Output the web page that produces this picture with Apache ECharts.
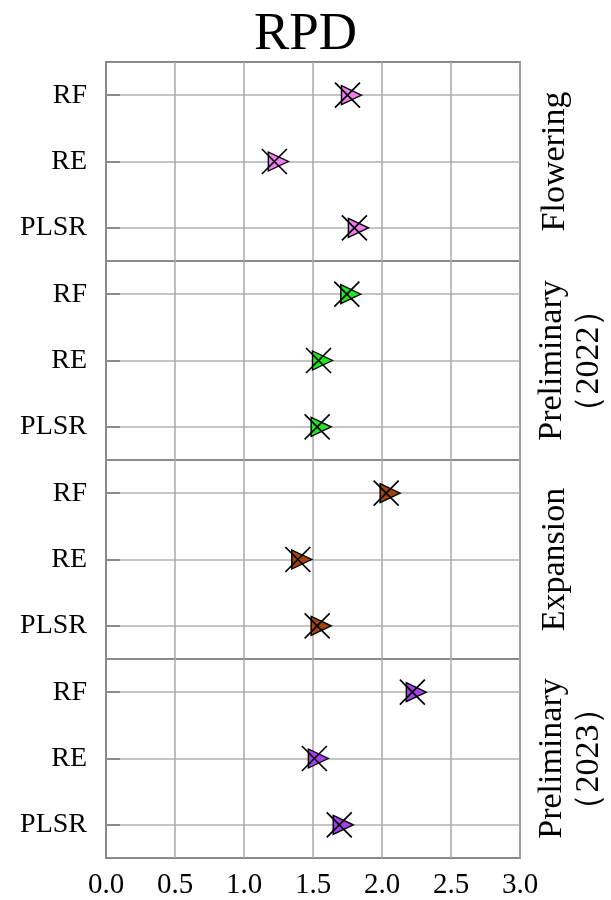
<!DOCTYPE html>
<html>
<head>
<meta charset="utf-8">
<script src="https://cdn.jsdelivr.net/npm/echarts@6/dist/echarts.min.js"></script>
<style>
html,body{margin:0;padding:0;background:#fff;}
#chart{width:611px;height:900px;}
</style>
</head>
<body>
<div id="chart"></div>
<script>
const categories = ['RF', 'RE', 'PLSR'];
const stages = ['Flowering', 'Preliminary\n（2022）', 'Expansion', 'Preliminary\n（2023）'];
const flowering = [1.75, 1.22, 1.80];
const prelim2022 = [1.745, 1.54, 1.53];
const expansion = [2.03, 1.39, 1.53];
const prelim2023 = [2.22, 1.51, 1.69];
const xTicks = [0, 0.5, 1.0, 1.5, 2.0, 2.5, 3.0];
const panelValues = [flowering, prelim2022, expansion, prelim2023];
const panelColors = ['#f07ef0', '#22e622', '#a3440a', '#a443ec'];

const FONT = "'Liberation Serif', 'Times New Roman', serif";
const chart = echarts.init(document.getElementById('chart'), null, {renderer: 'canvas'});

const gridTops = [62, 261, 460, 659];
const grids = [], xAxes = [], yAxes = [], series = [];
gridTops.forEach((top, i) => {
  grids.push({left: 106, right: 91, top: top, height: 199, show: true, borderColor: '#8a8a8a', borderWidth: 2,
    backgroundColor: 'transparent', containLabel: false, outerBoundsMode: 'none'});
  xAxes.push({
    type: 'value', gridIndex: i, min: xTicks[0], max: xTicks[xTicks.length - 1], interval: 0.5,
    axisLine: {show: false}, axisTick: {show: false},
    splitLine: {show: true, lineStyle: {color: '#a8a8a8', width: 1.5}},
    axisLabel: {show: i === 3, formatter: v => v.toFixed(1), color: '#000', fontFamily: FONT, fontSize: 29, margin: 13}
  });
  yAxes.push({
    type: 'category', gridIndex: i, data: categories, inverse: true,
    axisLine: {show: true, lineStyle: {color: '#8a8a8a', width: 2}},
    axisTick: {show: true, inside: true, alignWithLabel: true, length: 14, lineStyle: {color: '#8a8a8a', width: 2}},
    splitLine: {show: true, alignWithLabel: true, lineStyle: {color: '#b0b0b0', width: 1.5}},
    axisLabel: {color: '#000', fontFamily: FONT, fontSize: 28, margin: 19}
  });
  const multi = stages[i].indexOf('\n') >= 0;
  yAxes.push({
    type: 'category', gridIndex: i, data: categories, inverse: true, position: 'right',
    axisLine: {show: false}, axisTick: {show: false}, axisLabel: {show: false}, splitLine: {show: false},
    name: stages[i], nameLocation: 'middle', nameRotate: 90, nameGap: multi ? 14 : 17,
    nameTextStyle: {color: '#000', fontFamily: FONT, fontSize: 34, lineHeight: 37}
  });
  const vals = panelValues[i];
  const data = categories.map((c, k) => [vals[k], c]);
  series.push({
    type: 'scatter', xAxisIndex: i, yAxisIndex: 2 * i, data: data,
    symbol: 'triangle', symbolRotate: -90, symbolSize: [19, 20], symbolOffset: [4, 0],
    itemStyle: {color: panelColors[i], borderColor: '#000', borderWidth: 1.4, opacity: 1},
    z: 3, silent: true
  });
  series.push({
    type: 'scatter', xAxisIndex: i, yAxisIndex: 2 * i, data: data,
    symbol: 'path://M0,0L10,10M10,0L0,10', symbolSize: 25,
    itemStyle: {color: 'rgba(0,0,0,0)', borderColor: '#000', borderWidth: 1.7, opacity: 1},
    z: 4, silent: true
  });
});

chart.setOption({
  animation: false,
  backgroundColor: '#fff',
  title: {text: 'RPD', left: 'center', top: 4, textStyle: {fontFamily: FONT, fontSize: 53, fontWeight: 'normal', color: '#000'}},
  grid: grids, xAxis: xAxes, yAxis: yAxes, series: series
});
</script>
</body>
</html>
